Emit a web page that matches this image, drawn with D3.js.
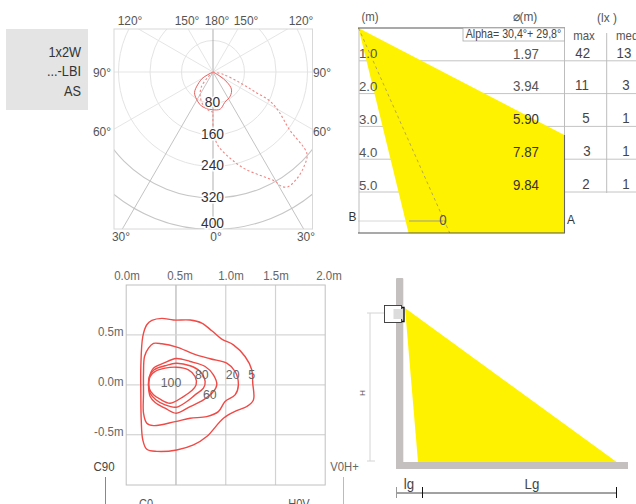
<!DOCTYPE html>
<html><head><meta charset="utf-8">
<script src="https://cdn.jsdelivr.net/npm/d3@7"></script>
<style>
html,body{margin:0;padding:0;background:#fff;overflow:hidden}
svg{display:block}
text{font-family:"Liberation Sans",Arial,sans-serif;fill:#444}
</style></head><body>
<svg id="c" width="636" height="504"></svg>
<script>
// ---------- data ----------
const titleLines = ["1x2W","...-LBI","AS"];
const polarRings = [80,160,240,320,400];
const polarSpokes = [0,30,60,90,120,150,180,-30,-60,-90,-120,-150];
const solidAngles = [-60,-51,-42,-31,-19,-10,0,11,21,36,47,54,59];
const solidValues = [29,49,70,81,91,94,96,96,83,75,64,44,20];
const dashAngles = [-45,-38,-27,-15,-5,0,0,0.6,4,12,18,25,29.5,31,33,38,44,49,53,59,63,64.5,68,77];
const dashValues = [18,48,71,90,99,102,103,154,188,227,258,291,318,339,348,345,333,316,243,195,162,122,77,26];

const heights = [1,2,3,4,5];
const heightLabels = ["1.0","2.0","3.0","4.0","5.0"];
const diameters = ["1.97","3.94","5.90","7.87","9.84"];
const luxMax = ["42","11","5","3","2"];
const luxMed = ["13","3","1","1","1"];
const beamX = [0,6.25,6.25,1.52];
const beamH = [0,3.26,6.25,6.25];
const axisBeamX = [0,2.77];
const axisBeamH = [0,6.25];

const isoTicksX = [0,0.5,1,1.5,2];
const isoTickLabelsX = ["0.0m","0.5m","1.0m","1.5m","2.0m"];
const isoTicksY = [0.5,0,-0.5];
const isoTickLabelsY = ["0.5m","0.0m","-0.5m"];
const iso5 = [[.258,.645],[.358,.666],[.475,.649],[.642,.649],[.759,.619],[.860,.542],[.960,.458],[1.077,.401],[1.194,.284],[1.261,.151],[1.271,.017],[1.278,-.151],[1.211,-.217],[1.110,-.258],[.977,-.334],[.809,-.518],[.676,-.602],[.508,-.652],[.308,-.666],[.207,-.645],[.167,-.552],[.151,-.351],[.147,-.084],[.147,.184],[.167,.485],[.207,.602]];
const iso20 = [[.224,.368],[.274,.415],[.358,.411],[.508,.378],[.676,.311],[.843,.261],[1.010,.217],[1.094,.134],[1.127,0],[1.094,-.100],[.993,-.167],[.926,-.268],[.809,-.318],[.642,-.334],[.492,-.368],[.274,-.408],[.207,-.385],[.174,-.284],[.174,-.084],[.174,.117],[.184,.284]];
const iso60 = [[.234,.084],[.274,.167],[.375,.217],[.502,.264],[.642,.234],[.793,.184],[.876,.100],[.910,0],[.876,-.067],[.776,-.151],[.642,-.217],[.502,-.284],[.391,-.234],[.291,-.177],[.241,-.117],[.224,0]];
const iso80 = [[.234,.084],[.281,.151],[.391,.191],[.502,.217],[.642,.191],[.742,.134],[.793,.033],[.776,-.033],[.692,-.100],[.609,-.167],[.502,-.224],[.391,-.201],[.301,-.151],[.241,-.084],[.224,0]];
const iso100 = [[.241,.084],[.291,.134],[.391,.167],[.502,.177],[.625,.151],[.692,.084],[.702,0],[.659,-.057],[.575,-.117],[.441,-.184],[.341,-.144],[.274,-.100],[.231,-.033]];
const isoLabels = ["100","80","60","20","5"];
const isoLabelX = [.45,.76,.84,1.07,1.26];
const isoLabelY = [.01,.095,-.105,.095,.09];

const sceneBeamX = [0,16.28,1];
const sceneBeamY = [0,1,1];

// ---------- helpers ----------
const svg = d3.select("#c");
function label(g,x,y,t,size,anchor,fill,sx){
  const e = g.append("text").text(t).attr("font-size",size).attr("text-anchor",anchor||"middle")
    .attr("dominant-baseline","middle");
  const k = sx||0.9;
  e.attr("transform",`translate(${x},${y}) scale(${k},1)`);
  if(fill) e.style("fill",fill);
  return e;
}

// ---------- title box ----------
const tb = svg.append("g");
tb.append("rect").attr("x",6).attr("y",29).attr("width",82).attr("height",81).attr("fill","#e4e4e4");
titleLines.forEach((t,i)=>label(tb,81,[53,72,92][i],t,14.5,"end","#333",0.88));

// ---------- polar ----------
const pc = {x:213,y:72};
const pr = d3.scaleLinear().domain([0,400]).range([0,157.5]);
const pg = svg.append("g");
const clip = svg.append("clipPath").attr("id","pclip");
clip.append("rect").attr("x",114).attr("y",29).attr("width",198.5).attr("height",200);
const pi = pg.append("g").attr("clip-path","url(#pclip)");
const pin = pi.append("g").attr("transform",`translate(${pc.x},${pc.y})`);
polarRings.forEach(v=>pin.append("circle").attr("r",pr(v)).attr("fill","none")
  .attr("stroke",v>=320?"#c6c6c6":"#e0e0e0").attr("stroke-width",v>=320?1.1:0.9));
const far = 300;
polarSpokes.forEach(a=>{
  const r = a*Math.PI/180;
  const dark = Math.abs(a)<=30;
  pin.append("line").attr("x1",0).attr("y1",0).attr("x2",far*Math.sin(r)).attr("y2",far*Math.cos(r))
    .attr("stroke",a===0||a===180?"#a6a6a6":dark?"#bcbcbc":"#e2e2e2").attr("stroke-width",0.9);
});
pg.append("rect").attr("x",114).attr("y",29).attr("width",198.5).attr("height",200)
  .attr("fill","none").attr("stroke","#d8d8d8");
const radial = d3.lineRadial().curve(d3.curveCatmullRom);
const pts = (as,vs)=>as.map((a,i)=>[(180-a)*Math.PI/180,pr(vs[i])]);
const withOrigin = p=>[[p[0][0],0],...p,[p[p.length-1][0],0]];
pin.append("path").attr("d",radial(withOrigin(pts(solidAngles,solidValues)))).attr("fill","none")
  .attr("stroke","#e8605e").attr("stroke-width",1);
pin.append("path").attr("d",radial(withOrigin(pts(dashAngles,dashValues)))).attr("fill","none")
  .attr("stroke","#f08684").attr("stroke-width",1.1).attr("stroke-dasharray","2.2 2.2");
polarRings.forEach(v=>{
  const y = Math.min(pc.y+pr(v),224);
  const t = label(pg,pc.x-0.5,y,String(v),14.5,"middle","#333",0.95);
  t.attr("stroke","#fff").attr("stroke-width",3).attr("paint-order","stroke");
});
[["120°",130,22],["150°",187,22],["180°",217,22],["150°",246,22],["120°",301,22],
 ["90°",102,74],["90°",322,74],["60°",102,133],["60°",322,133],
 ["30°",121,238],["0°",216,238],["30°",306,238]].forEach(d=>label(pg,d[1],d[2],d[0],13,"middle","#555",0.92));

// ---------- beam table ----------
const hY = d3.scaleLinear().domain([0,6.25]).range([28,233]);
const hX = d3.scaleLinear().domain([0,6.25]).range([358.5,564.3]);
const bg = svg.append("g");
heights.forEach(h=>bg.append("line").attr("x1",359).attr("x2",636).attr("y1",hY(h)).attr("y2",hY(h))
  .attr("stroke","#c4c4c4").attr("stroke-width",1));
bg.append("line").attr("x1",358).attr("x2",564).attr("y1",221).attr("y2",221).attr("stroke","#d8d8d8");
bg.append("line").attr("x1",359).attr("x2",359).attr("y1",28).attr("y2",233).attr("stroke","#bdbdbd");
bg.append("line").attr("x1",564.5).attr("x2",564.5).attr("y1",28).attr("y2",135).attr("stroke","#bdbdbd");
bg.append("line").attr("x1",606.7).attr("x2",606.7).attr("y1",33).attr("y2",193).attr("stroke","#bdbdbd");
bg.append("polygon").attr("fill","#fff200")
  .attr("points",beamX.map((x,i)=>[hX(x),hY(beamH[i])].join(",")).join(" "));
bg.append("line").attr("x1",409).attr("x2",443).attr("y1",221).attr("y2",221).attr("stroke","#999");
bg.append("line").attr("x1",hX(axisBeamX[0])).attr("y1",hY(axisBeamH[0])).attr("x2",hX(axisBeamX[1])).attr("y2",hY(axisBeamH[1]))
  .attr("stroke","#b5aa50").attr("stroke-width",1).attr("stroke-dasharray","3 3");
bg.append("line").attr("x1",358).attr("x2",565).attr("y1",28).attr("y2",28).attr("stroke","#555").attr("stroke-width",1.2);
bg.append("line").attr("x1",358).attr("x2",565).attr("y1",233).attr("y2",233).attr("stroke","#555").attr("stroke-width",1.2);
bg.append("line").attr("x1",564.5).attr("x2",564.5).attr("y1",135).attr("y2",233).attr("stroke","#666").attr("stroke-width",1.1);
bg.append("rect").attr("x",463).attr("y",28).attr("width",101.5).attr("height",13).attr("fill","#fff").attr("stroke","#aaa").attr("stroke-width",0.8);
label(bg,513.5,34.5,"Alpha= 30,4°+ 29,8°",13,"middle","#444",0.82);
label(bg,370,18,"(m)",12,"middle","#555",0.95);
label(bg,525,17.5,"⌀(m)",12.5,"middle","#555",0.95);
label(bg,607,19,"(lx )",12.5,"middle","#555",0.95);
label(bg,584,37,"max",13,"middle","#555",0.88);
label(bg,616,37,"med",13,"start","#555",0.88);
const maxXs=[582.7,582,586,587,586], medXs=[624,626,626,626,626];
heights.forEach((h,i)=>{
  const y = hY(h)-6;
  label(bg,359,y,heightLabels[i],13.5,"start","#555",0.98);
  label(bg,526,y,diameters[i],14,"middle",h>=3?"#333":"#555",0.95);
  label(bg,maxXs[i],y-1,luxMax[i],14,"middle","#444",0.95);
  label(bg,medXs[i],y-1,luxMed[i],14,"middle","#444",0.95);
});
label(bg,352.5,218,"B",12.5,"middle","#333",0.95);
label(bg,571,221,"A",12.5,"middle","#333",0.95);
label(bg,443,221,"0",14,"middle","#555",0.95);

// ---------- isolux ----------
const ix = d3.scaleLinear().domain([0,2]).range([126.2,325.3]);
const iy = d3.scaleLinear().domain([-1,1]).range([484.7,285]);
const ig = svg.append("g");
[0.5,1,1.5].forEach((v,i)=>ig.append("line").attr("x1",ix(v)).attr("x2",ix(v)).attr("y1",285).attr("y2",485)
  .attr("stroke",i===0?"#a6a6a6":"#d2d2d2").attr("stroke-width",i===0?1:1.2));
isoTicksY.forEach(v=>ig.append("line").attr("x1",126).attr("x2",325).attr("y1",iy(v)).attr("y2",iy(v))
  .attr("stroke",v===-0.5?"#c4c4c4":"#d6d6d6").attr("stroke-width",v===-0.5?0.9:1.2));
ig.append("rect").attr("x",126.2).attr("y",285).attr("width",199).attr("height",200).attr("fill","none").attr("stroke","#c0c0c0").attr("stroke-width",1);
const closed = d3.line().x(d=>ix(d[0])).y(d=>iy(d[1])).curve(d3.curveCatmullRomClosed);
[iso5,iso20,iso60,iso80,iso100].forEach(c=>ig.append("path").attr("d",closed(c)).attr("fill","none")
  .attr("stroke","#ef4a46").attr("stroke-width",1.4));
isoLabels.forEach((t,i)=>label(ig,ix(isoLabelX[i]),iy(isoLabelY[i]),t,13,"middle","#666",0.95));
const xlPos=[127,180,231,276,329];
isoTicksX.forEach((v,i)=>label(ig,xlPos[i],277,isoTickLabelsX[i],12.5,"middle","#666",0.92));
isoTicksY.forEach((v,i)=>label(ig,123.5,iy(v)-2,isoTickLabelsY[i],12.5,"end","#666",0.92));
label(ig,104,468,"C90",12.5,"middle","#444",0.92);
label(ig,344.5,468,"V0H+",12.5,"middle","#666",0.9);
ig.append("line").attr("x1",105.5).attr("x2",105.5).attr("y1",477).attr("y2",504).attr("stroke","#888");
ig.append("line").attr("x1",343.5).attr("x2",343.5).attr("y1",477).attr("y2",504).attr("stroke","#bbb");
label(ig,146,505,"C0",12,"middle","#555",0.92);
label(ig,299,505,"H0V",12,"middle","#555",0.92);

// ---------- installation sketch ----------
const sx = d3.scaleLinear().domain([0,1]).range([405,418]);
const sy = d3.scaleLinear().domain([0,1]).range([308,462]);
const sg = svg.append("g");
sg.append("rect").attr("x",396).attr("y",278).attr("width",7.3).attr("height",191).attr("fill","#c4c0c0").attr("rx",1);
sg.append("rect").attr("x",396).attr("y",462).attr("width",232).attr("height",7).attr("fill","#c4c0c0");
sg.append("polygon").attr("fill","#fff200").attr("points",sceneBeamX.map((x,i)=>[sx(x),sy(sceneBeamY[i])].join(",")).join(" "));
sg.append("rect").attr("x",384.5).attr("y",305.5).attr("width",17).attr("height",17).attr("fill","#fff").attr("stroke","#333").attr("stroke-width",0.9);
sg.append("rect").attr("x",393.5).attr("y",309).attr("width",10).attr("height",10).attr("fill","#dcdcdc");
sg.append("path").attr("d","M402 307.5H404V321.5H402").attr("fill","none").attr("stroke","#111").attr("stroke-width",1.4);
sg.append("path").attr("d","M367 313H384M370 313V461M367 461H375").attr("fill","none").attr("stroke","#d4d4d4");
sg.append("text").text("H").attr("font-size",8).attr("text-anchor","middle").attr("transform","translate(359.5,393) rotate(90)").style("fill","#555");
sg.append("line").attr("x1",396).attr("x2",616.7).attr("y1",493).attr("y2",493).attr("stroke","#444");
sg.append("line").attr("x1",396.5).attr("x2",396.5).attr("y1",487).attr("y2",498).attr("stroke","#999");
sg.append("line").attr("x1",422.5).attr("x2",422.5).attr("y1",487).attr("y2",498).attr("stroke","#111");
sg.append("line").attr("x1",616.5).attr("x2",616.5).attr("y1",487).attr("y2",498).attr("stroke","#111");
label(sg,409,485,"lg",14,"middle","#444",0.95);
label(sg,532,485,"Lg",14,"middle","#444",0.95);
</script>
</body></html>
